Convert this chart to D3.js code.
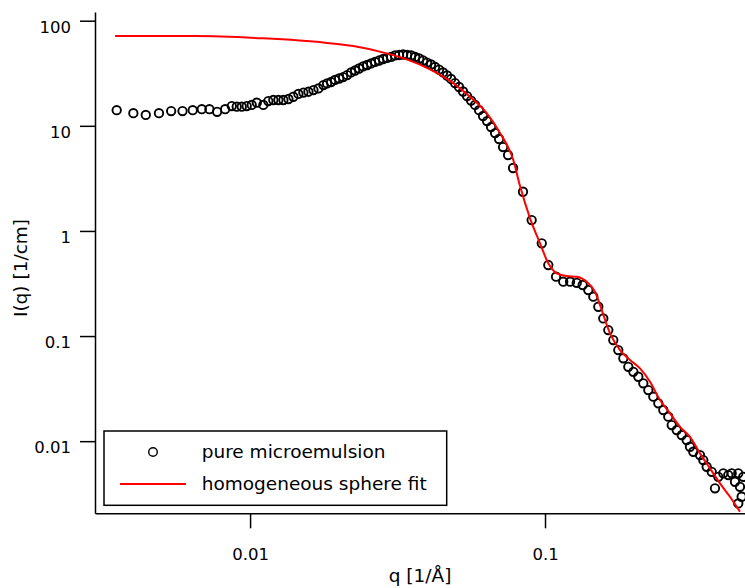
<!DOCTYPE html>
<html><head><meta charset="utf-8">
<script src="https://cdn.jsdelivr.net/npm/d3@7"></script>
<style>body{margin:0;background:#fff} svg{display:block}</style>
</head><body>
<svg id="chart" width="745" height="588"></svg>
<script>
// measured data: pure microemulsion
const dataQ = [0.00353,0.00402,0.00443,0.00491,0.00540,0.00590,0.00639,0.00686,0.00728,0.00773,0.00823,0.00867,0.00901,0.00937,0.00974,0.01013,0.01054,0.01109,0.01153,0.01199,0.01247,0.01297,0.01349,0.01402,0.01458,0.01516,0.01577,0.01640,0.01705,0.01773,
0.01824,0.01882,0.01942,0.02004,0.02067,0.02133,0.02201,0.02270,0.02342,0.02417,0.02494,0.02573,0.02654,0.02739,0.02825,0.02915,0.03008,0.03103,0.03201,0.03303,0.03408,0.03516,0.03628,0.03743,0.03861,0.03981,0.04107,0.04238,0.04372,0.04511,0.04654,0.04802,0.04954,0.05111,0.05273,0.05441,0.05614,0.05792,0.05976,0.06165,0.06361,0.06563,0.06771,0.06986,0.07208,0.07495,0.07793,
0.0842,0.0901,0.0975,0.1026,0.1090,0.1153,0.1216,0.1281,0.1342,0.1402,0.1458,0.1516,0.1576,0.1639,0.1704,0.1772,0.1843,0.1916,0.1993,0.2072,0.2154,0.2240,0.2329,0.2422,0.2518,0.2618,0.2689,0.2796,0.2907,0.3022,0.3101,0.3182,0.3353,0.3440,0.3533,0.3674,0.3769,0.3868,0.4022,0.4182,0.4295,0.4406,0.4521,0.4581,0.4642,0.4521,0.4700];
const dataI = [14.1,13.2,12.7,13.2,13.8,13.8,14.1,14.4,14.4,13.6,14.4,15.4,15.2,15.2,15.4,15.8,16.6,15.8,17.2,17.6,17.6,17.6,18.0,18.9,20.1,20.7,21.1,21.9,22.7,24.4,
25.3,26.1,27.3,28.2,29.1,30.4,32.2,33.6,35.1,36.7,37.9,39.2,40.5,41.8,43.2,44.2,45.2,46.7,47.2,47.7,47.2,46.7,45.2,43.7,41.8,40.0,38.3,36.3,34.3,32.2,30.1,27.9,25.5,23.4,21.2,19.2,17.4,15.8,14.1,12.4,11.1,9.74,8.54,7.49,6.28,5.27,3.97,
2.36,1.27,0.762,0.474,0.367,0.329,0.329,0.321,0.306,0.274,0.237,0.190,0.147,0.114,0.0916,0.0736,0.0614,0.0510,0.0457,0.0410,0.0355,0.0306,0.0265,0.0229,0.0198,0.0171,0.01423,0.01275,0.01143,0.01024,0.00885,0.00793,0.00737,0.00661,0.00571,0.00511,0.00356,0.00458,0.00494,0.00476,0.00494,0.00411,0.00494,0.00368,0.00296,0.00256,0.00458];

// homogeneous sphere fit
const fitQ = [0.003486,0.006511,0.01096,0.01796,0.02240,0.02906,0.03398,0.04075,0.04889,0.05569,0.06344,0.07039,0.07807,0.08229,0.08897,0.09618,0.1026,0.1096,0.1185,0.1281,0.1385,0.1477,0.1537,0.1661,0.1796,0.1942,0.2099,0.2270,0.2454,0.2653,0.2869,0.3102,0.3353,0.3625,0.3919,0.4237,0.4581];
const fitI = [71.5,71.5,68.0,61.8,57.4,48.9,42.9,34.5,25.4,18.9,13.2,8.53,4.73,2.67,1.318,0.762,0.492,0.395,0.372,0.367,0.329,0.264,0.197,0.106,0.0736,0.0591,0.0493,0.0367,0.0246,0.0184,0.0137,0.0110,0.00765,0.00551,0.00397,0.00296,0.00213];

const xTicks = [0.01, 0.1];
const xTickLabels = ["0.01", "0.1"];
const yTicks = [0.01, 0.1, 1, 10, 100];
const yTickLabels = ["0.01", "0.1", "1", "10", "100"];
const seriesNames = ["pure microemulsion", "homogeneous sphere fit"];
const xLabel = "q [1/Å]";
const yLabel = "I(q) [1/cm]";

(function () {
const FONT = "'DejaVu Sans', Verdana, sans-serif";
const svg = d3.select("#chart");
const pL = 95, pR = 745, pT = 12, pB = 513.3;
const x = d3.scaleLog().domain([0.00298, 0.4765]).range([pL, pR]);
const y = d3.scaleLog().domain([0.00206, 121]).range([pB, pT]);

svg.append("defs").append("clipPath").attr("id", "plotclip")
  .append("rect").attr("x", pL).attr("y", pT).attr("width", pR - pL).attr("height", pB - pT);

// data points
const pts = dataQ.map((q, i) => [q, dataI[i]]);
svg.append("g").attr("clip-path", "url(#plotclip)")
  .selectAll("circle").data(pts).join("circle")
  .attr("cx", d => x(d[0])).attr("cy", d => y(d[1])).attr("r", 4.2)
  .attr("fill", "none").attr("stroke", "#000").attr("stroke-width", 1.9);

// fit line
const fit = fitQ.map((q, i) => [q, fitI[i]]);
svg.append("path").datum(fit).attr("clip-path", "url(#plotclip)")
  .attr("fill", "none").attr("stroke", "#ff0000").attr("stroke-width", 2)
  .attr("d", d3.line().x(d => x(d[0])).y(d => y(d[1])).curve(d3.curveMonotoneX));

// axes
const yAxis = svg.append("g").attr("transform", `translate(${pL},0)`)
  .call(d3.axisLeft(y).tickValues(yTicks).tickFormat((d, i) => yTickLabels[i]).tickSize(15).tickSizeOuter(0).tickPadding(9));
const xAxis = svg.append("g").attr("transform", `translate(0,${pB})`)
  .call(d3.axisBottom(x).tickValues(xTicks).tickFormat((d, i) => xTickLabels[i]).tickSize(15).tickSizeOuter(0));
[yAxis, xAxis].forEach(g => {
  g.selectAll("path,line").attr("stroke", "#000").attr("stroke-width", 1.5);
  g.selectAll("text").attr("fill", "#000").style("font-family", FONT).style("font-size", "16.5px");
});
yAxis.selectAll("text").attr("dy", null).attr("y", 11.8);
xAxis.selectAll("text").attr("dy", null).attr("y", 46.5);

// axis labels
svg.append("text").attr("x", (pL + pR) / 2).attr("y", 582).attr("text-anchor", "middle")
  .style("font-family", FONT).style("font-size", "18.5px").attr("fill", "#000").text(xLabel);
svg.append("text").attr("transform", "translate(27,268) rotate(-90)").attr("text-anchor", "middle")
  .style("font-family", FONT).style("font-size", "18.5px").attr("fill", "#000").text(yLabel);

// legend
const lg = svg.append("g");
lg.append("rect").attr("x", 104).attr("y", 431).attr("width", 342.7).attr("height", 74.3)
  .attr("fill", "#fff").attr("stroke", "#000").attr("stroke-width", 1.5);
lg.append("circle").attr("cx", 153).attr("cy", 452).attr("r", 4.3)
  .attr("fill", "none").attr("stroke", "#000").attr("stroke-width", 1.4);
lg.append("line").attr("x1", 120).attr("x2", 186).attr("y1", 484).attr("y2", 484)
  .attr("stroke", "#ff0000").attr("stroke-width", 2);
lg.selectAll("text.lt").data(seriesNames).join("text").attr("class", "lt")
  .attr("x", 201.7).attr("y", (d, i) => i === 0 ? 458.3 : 490)
  .style("font-family", FONT).style("font-size", "18.5px").attr("fill", "#000").text(d => d);
})();
</script>
</body></html>
